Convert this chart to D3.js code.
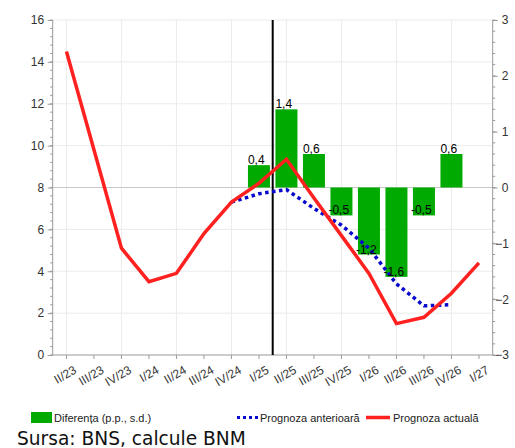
<!DOCTYPE html>
<html><head><meta charset="utf-8">
<script src="https://cdn.jsdelivr.net/npm/d3@7"></script>
<style>body{margin:0;background:#fff}svg{display:block}</style>
</head><body>
<script>
const categories = ["II/23","III/23","IV/23","I/24","II/24","III/24","IV/24","I/25","II/25","III/25","IV/25","I/26","II/26","III/26","IV/26","I/27"];
const actual = [14.5, 9.8, 5.1, 3.5, 3.9, 5.8, 7.3, 8.2, 9.35, 7.5, 5.7, 3.9, 1.5, 1.8, 2.95, 4.4];
const previous = [null, null, null, null, null, null, 7.3, 7.7, 7.9, 7.0, 6.2, 5.1, 3.4, 2.35, 2.4, null];
const difference = [null, null, null, null, null, null, null, 0.4, 1.4, 0.6, -0.5, -1.2, -1.6, -0.5, 0.6, null];
const diffLabels = [null, null, null, null, null, null, null, "0,4", "1,4", "0,6", "-0,5", "-1,2", "-1,6", "-0,5", "0,6", null];
const leftTicks = [0,2,4,6,8,10,12,14,16];
const rightTicks = [-3,-2,-1,0,1,2,3];
const legendLabels = ["Diferența (p.p., s.d.)", "Prognoza anterioară", "Prognoza actuală"];
const sourceText = "Sursa: BNS, calcule BNM";
const splitCategory = "II/25";

const W = 515, H = 448;
const L = 52.7, R = 492.7, T = 20, B = 355;
const FONT = "'Liberation Sans', Arial, sans-serif";
const svg = d3.select("body").append("svg").attr("width", W).attr("height", H)
  .style("font-family", FONT);

const x = d3.scaleBand().domain(categories).range([L, R]).paddingInner(0.2).paddingOuter(0.1);
const step = x.step();
const xc = d => x(d) + x.bandwidth() / 2;
const yL = d3.scaleLinear().domain([0, 16]).range([B, T]);
const yR = d3.scaleLinear().domain([-3, 3]).range([B, T]);

// grid
const g = svg.append("g");
g.selectAll(".hg").data(leftTicks.filter(t => t !== 8 && t !== 0)).join("line")
  .attr("x1", L).attr("x2", R).attr("y1", d => yL(d)).attr("y2", d => yL(d))
  .attr("stroke", "#ebebeb").attr("stroke-width", 1);
g.selectAll(".vg").data(categories.filter((c, i) => i % 2 === 0)).join("line")
  .attr("x1", d => xc(d)).attr("x2", d => xc(d)).attr("y1", T).attr("y2", B)
  .attr("stroke", "#ebebeb").attr("stroke-width", 1);
g.append("line").attr("x1", L).attr("x2", R).attr("y1", yR(0)).attr("y2", yR(0))
  .attr("stroke", "#c8c8c8").attr("stroke-width", 1);

// axes
const axisColor = "#999";
const leftAxis = svg.append("g").attr("transform", `translate(${L},0)`)
  .call(d3.axisLeft(yL).tickValues(leftTicks).tickSize(5).tickPadding(3.5));
const rightAxis = svg.append("g").attr("transform", `translate(${R},0)`)
  .call(d3.axisRight(yR).tickValues(rightTicks).tickFormat(d3.format("d")).tickSize(5).tickPadding(4));
rightAxis.selectAll(".tick text").attr("x", d => d < 0 ? 2.5 : 9);
// minor ticks
svg.append("g").selectAll("line").data(d3.range(0, 16.01, 0.4)).join("line")
  .attr("x1", L - 2.5).attr("x2", L).attr("y1", d => yL(d)).attr("y2", d => yL(d))
  .attr("stroke", axisColor);
svg.append("g").selectAll("line").data(d3.range(-3, 3.01, 0.2)).join("line")
  .attr("x1", R).attr("x2", R + 2.5).attr("y1", d => yR(d)).attr("y2", d => yR(d))
  .attr("stroke", axisColor);
const bottomAxis = svg.append("g").attr("transform", `translate(0,${B})`)
  .call(d3.axisBottom(x).tickSize(4).tickSizeOuter(0));
bottomAxis.selectAll("text").attr("text-anchor", "end")
  .attr("transform", "translate(2,2) rotate(-30)").attr("dy", "0.9em").attr("dx", "0");
[leftAxis, rightAxis, bottomAxis].forEach(a => {
  a.selectAll("path.domain").attr("stroke", axisColor);
  a.selectAll(".tick line").attr("stroke", axisColor);
  a.selectAll("text").attr("fill", "#333").style("font-family", FONT);
});
leftAxis.selectAll("text").style("font-size", "12px");
rightAxis.selectAll("text").style("font-size", "12px");
bottomAxis.selectAll("text").style("font-size", "12px");
leftAxis.select("path.domain").attr("d", `M-0,${B}V${T}`);
rightAxis.select("path.domain").attr("d", `M0,${B}V${T}`);
bottomAxis.select("path.domain").attr("d", `M${L},0H${R}`);

// bars
const barData = categories.map((c, i) => ({c, v: difference[i], lab: diffLabels[i]})).filter(d => d.v !== null);
svg.append("g").selectAll("rect").data(barData).join("rect")
  .attr("x", d => x(d.c)).attr("width", x.bandwidth())
  .attr("y", d => yR(Math.max(0, d.v))).attr("height", d => Math.abs(yR(d.v) - yR(0)))
  .attr("fill", "#00aa00");

// split line
svg.append("line").attr("x1", x(splitCategory) - step * 0.1).attr("x2", x(splitCategory) - step * 0.1)
  .attr("y1", T).attr("y2", B).attr("stroke", "#000").attr("stroke-width", 2);

// lines
const prevData = categories.map((c, i) => ({c, v: previous[i]})).filter(d => d.v !== null);
svg.append("path").datum(prevData)
  .attr("d", d3.line().x(d => xc(d.c)).y(d => yL(d.v)))
  .attr("fill", "none").attr("stroke", "#0a0acc").attr("stroke-width", 3.5).attr("stroke-dasharray", "3.5,3.5");
const actData = categories.map((c, i) => ({c, v: actual[i]}));
svg.append("path").datum(actData)
  .attr("d", d3.line().x(d => xc(d.c)).y(d => yL(d.v)))
  .attr("fill", "none").attr("stroke", "#ff2020").attr("stroke-width", 3.5).attr("stroke-linejoin", "miter");

// bar labels
svg.append("g").selectAll("text").data(barData).join("text")
  .attr("x", d => x(d.c) - (d.v < 0 ? 2 : 0)).attr("y", d => yR(d.v) - 1)
  .attr("font-size", "12px").attr("fill", "#000").text(d => d.lab);

// legend
const lg = svg.append("g").style("font-size", "11px").attr("fill", "#222");
lg.append("rect").attr("x", 31).attr("y", 412).attr("width", 21).attr("height", 11).attr("fill", "#00aa00");
lg.append("text").attr("x", 54).attr("y", 422).text(legendLabels[0]);
lg.append("line").attr("x1", 237).attr("x2", 258).attr("y1", 417.5).attr("y2", 417.5)
  .attr("stroke", "#0a0acc").attr("stroke-width", 3).attr("stroke-dasharray", "3,3");
lg.append("text").attr("x", 260).attr("y", 422).text(legendLabels[1]);
lg.append("line").attr("x1", 366).attr("x2", 390).attr("y1", 417.5).attr("y2", 417.5)
  .attr("stroke", "#ff2020").attr("stroke-width", 3.5);
lg.append("text").attr("x", 393).attr("y", 422).text(legendLabels[2]);

svg.append("text").attr("x", 17).attr("y", 445).text(sourceText)
  .style("font-family", "'DejaVu Sans', sans-serif").style("font-size", "18.6px").attr("fill", "#111");
</script>
</body></html>
